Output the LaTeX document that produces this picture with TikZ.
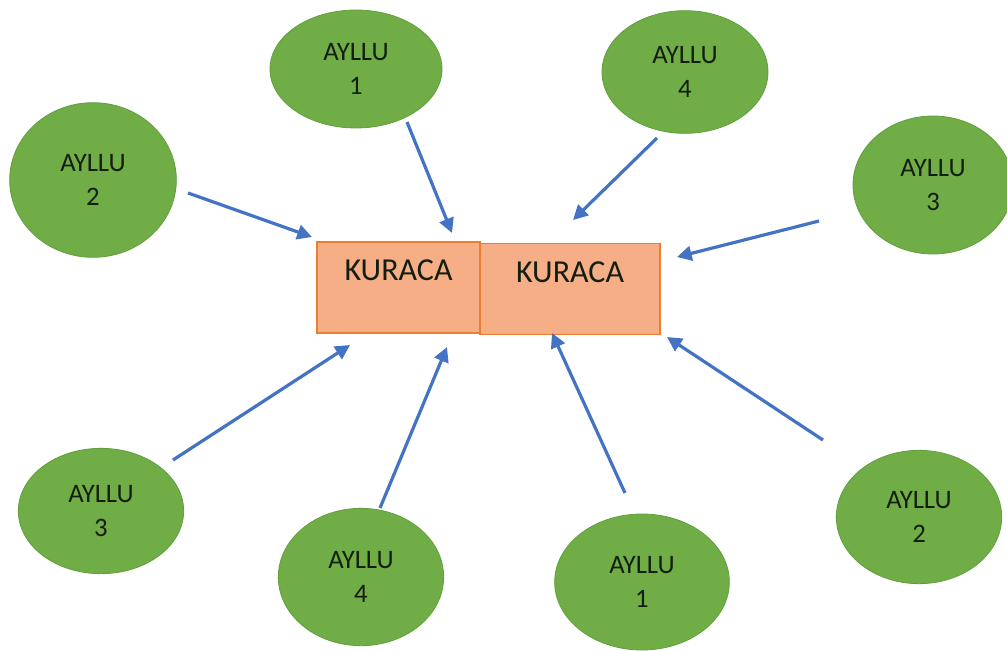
\documentclass[tikz,border=0pt]{standalone}
\usepackage{fontspec}
\setmainfont{Carlito}
\usetikzlibrary{arrows.meta,shapes.geometric}
\definecolor{ayllugreen}{RGB}{112,173,71}
\definecolor{aylluedge}{RGB}{96,160,60}
\definecolor{kfill}{RGB}{245,174,133}
\definecolor{kedge}{RGB}{237,125,49}
\definecolor{arrowblue}{RGB}{68,114,196}
\definecolor{txt}{RGB}{20,30,15}
\begin{document}
\begin{tikzpicture}[x=0.75pt,y=-0.75pt,
  ayllu/.style={ellipse, fill=ayllugreen, draw=aylluedge, line width=0.6pt,
    align=center, font=\fontsize{20}{26}\selectfont, text=txt, inner sep=0pt},
  kuraca/.style={rectangle, fill=kfill, draw=kedge, line width=1pt,
    font=\fontsize{24}{26}\selectfont, text=txt, inner sep=0pt,
    text height=29pt, text depth=39.25pt},
  flow/.style={draw=arrowblue, line width=2.4pt,
    -{Triangle[length=11pt,width=11pt]}}]
\useasboundingbox (0,0) rectangle (1007,650);
% ellipses
\node[ayllu, minimum width=129pt, minimum height=88.5pt] (a1t) at (356,69) {AYLLU\\1};
\node[ayllu, minimum width=124.5pt, minimum height=92pt] (a4t) at (685,72) {AYLLU\\4};
\node[ayllu, minimum width=125pt, minimum height=116pt] (a2l) at (93,180) {AYLLU\\2};
\node[ayllu, minimum width=120pt, minimum height=103.5pt] (a3r) at (933,185) {AYLLU\\3};
\node[ayllu, minimum width=124pt, minimum height=94pt] (a3b) at (101,511) {AYLLU\\3};
\node[ayllu, minimum width=124pt, minimum height=103pt] (a4b) at (361,577) {AYLLU\\4};
\node[ayllu, minimum width=131pt, minimum height=102pt] (a1b) at (642,582) {AYLLU\\1};
\node[ayllu, minimum width=124pt, minimum height=100pt] (a2b) at (919,517) {AYLLU\\2};
% boxes
\node[kuraca, minimum width=122.25pt, minimum height=68.25pt] (k1) at (398.5,287.5) {KURACA};
\node[kuraca, minimum width=135pt, minimum height=68.25pt] (k2) at (570,289) {KURACA};
% arrow end points
\coordinate (s1) at (407,122); \coordinate (e1) at (452,233);
\coordinate (s2) at (657,138); \coordinate (e2) at (573,220);
\coordinate (s3) at (188,193); \coordinate (e3) at (312,237);
\coordinate (s4) at (819,221); \coordinate (e4) at (677,257);
\coordinate (s5) at (173,460); \coordinate (e5) at (350,345);
\coordinate (s6) at (380,508); \coordinate (e6) at (447,347);
\coordinate (s7) at (625,493); \coordinate (e7) at (552,333);
\coordinate (s8) at (823,440); \coordinate (e8) at (667,337);
\draw[flow] (s1) -- (e1);
\draw[flow] (s2) -- (e2);
\draw[flow] (s3) -- (e3);
\draw[flow] (s4) -- (e4);
\draw[flow] (s5) -- (e5);
\draw[flow] (s6) -- (e6);
\draw[flow] (s7) -- (e7);
\draw[flow] (s8) -- (e8);
\end{tikzpicture}
\end{document}
